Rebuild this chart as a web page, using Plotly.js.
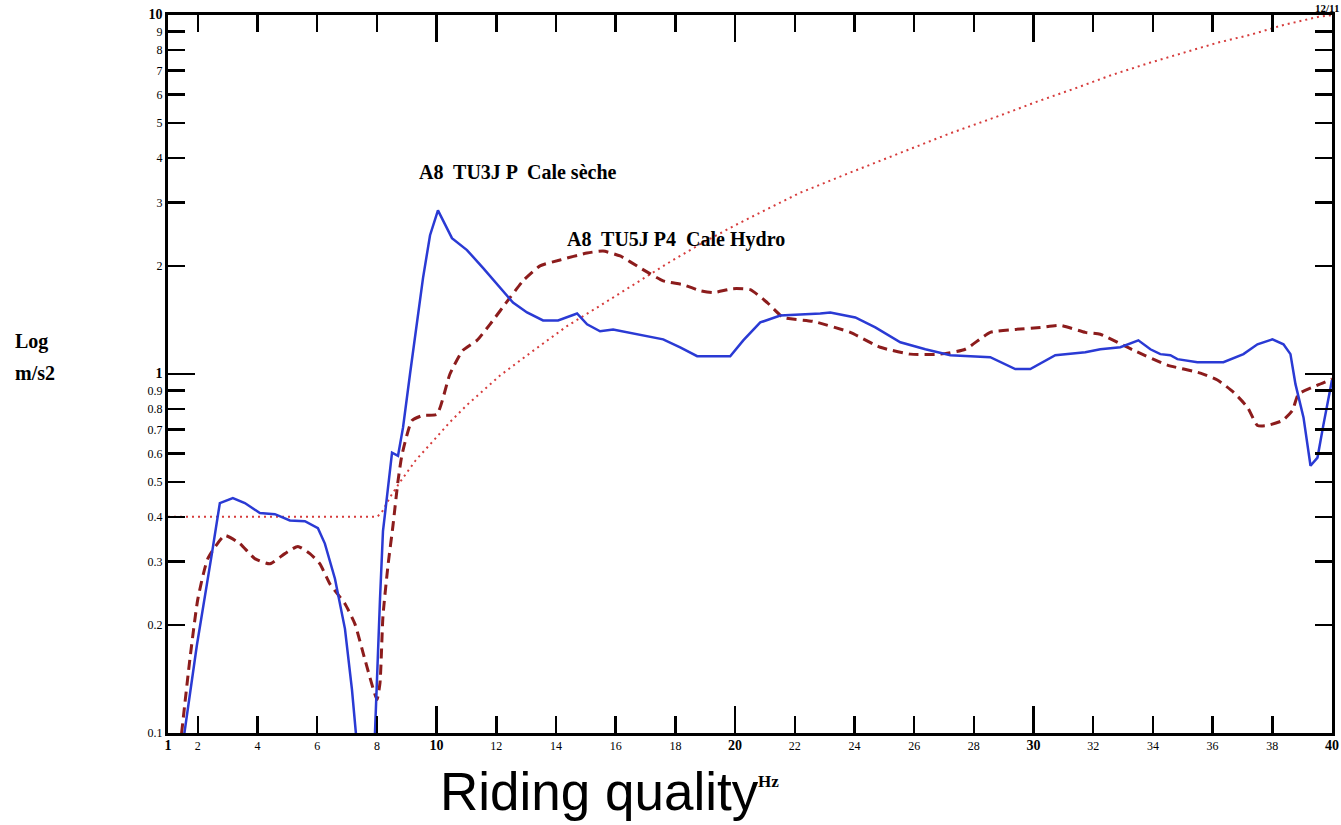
<!DOCTYPE html>
<html>
<head>
<meta charset="utf-8">
<script src="https://cdn.plot.ly/plotly-3.0.1.min.js"></script>
<style>html,body{margin:0;padding:0;background:#fff;}#chart{width:1341px;height:825px;}</style>
</head>
<body>
<div id="chart"></div>
<script>
// ---- Data ----
const blueX = [1.43,1.965,2.468,2.737,3.172,3.575,4.078,4.581,5.084,5.587,6.023,6.256,6.594,6.929,7.164,7.332,7.40,7.85,7.935,8.103,8.203,8.304,8.506,8.707,8.875,9.109,9.545,9.780,10.045,10.514,11.017,11.553,12.123,12.559,13.029,13.566,14.069,14.706,15.041,15.477,15.913,16.584,17.590,18.160,18.730,19.837,20.274,20.844,21.514,22.855,23.190,24.028,24.699,25.537,26.375,27.213,28.550,29.388,29.891,30.729,31.735,32.238,32.908,33.512,33.914,34.249,34.585,34.820,35.490,36.362,37.033,37.502,38.005,38.374,38.608,38.776,39.045,39.280,39.514,39.715,40.0];
const blueY = [0.085,0.175,0.315,0.437,0.451,0.437,0.410,0.407,0.391,0.389,0.372,0.337,0.269,0.195,0.132,0.0956,0.08,0.08,0.1,0.236,0.365,0.431,0.604,0.592,0.710,1.0,1.853,2.436,2.857,2.39,2.214,1.975,1.740,1.581,1.484,1.410,1.410,1.474,1.375,1.315,1.331,1.298,1.249,1.187,1.121,1.121,1.241,1.392,1.455,1.474,1.484,1.437,1.348,1.226,1.172,1.128,1.114,1.032,1.032,1.128,1.150,1.172,1.187,1.241,1.172,1.136,1.128,1.100,1.079,1.079,1.136,1.210,1.249,1.210,1.136,0.937,0.757,0.555,0.585,0.724,0.962];

const hydroX = [1.396,1.731,1.999,2.334,2.904,3.407,3.910,4.413,4.916,5.352,5.755,6.090,6.426,6.929,7.265,7.600,8.002,8.103,8.203,8.371,8.539,8.707,8.841,9.176,9.545,10.011,10.447,10.883,11.352,11.788,12.458,12.895,13.465,14.136,15.041,15.578,16.148,16.819,17.590,18.261,18.831,19.267,19.938,20.508,21.078,21.615,22.620,23.861,24.866,25.872,26.878,27.711,28.550,29.388,30.226,30.897,31.735,32.238,33.344,34.484,35.591,36.161,36.697,37.167,37.502,37.837,38.340,38.675,38.877,39.514,40.0];
const hydroY = [0.09,0.160,0.236,0.306,0.355,0.337,0.306,0.296,0.316,0.331,0.316,0.296,0.260,0.229,0.201,0.160,0.124,0.138,0.212,0.293,0.379,0.504,0.596,0.742,0.767,0.772,1.0,1.165,1.241,1.375,1.632,1.818,2.001,2.078,2.173,2.200,2.132,1.975,1.818,1.773,1.706,1.685,1.729,1.718,1.581,1.437,1.401,1.306,1.187,1.136,1.136,1.172,1.306,1.331,1.348,1.366,1.306,1.290,1.165,1.059,1.006,0.962,0.890,0.808,0.719,0.719,0.742,0.792,0.879,0.931,0.968];

const limitX = [1,8.0,8.15,8.45,8.774,9.3,9.877,10.45,11.017,12.123,13.230,14.371,15.477,16.584,17.724,18.831,19.938,21.078,22.185,23.86,25.537,27.2,28.885,30.15,31.400,32.65,33.914,35.021,36.161,37.267,38.374,39.514,40.0];
const limitY = [0.4,0.4,0.41,0.455,0.50,0.575,0.65,0.735,0.82,0.99,1.16,1.36,1.55,1.77,2.03,2.30,2.58,2.88,3.20,3.64,4.12,4.68,5.25,5.75,6.25,6.82,7.37,7.85,8.37,8.81,9.38,9.87,10];

const xTickVals = [1,2,4,6,8,10,12,14,16,18,20,22,24,26,28,30,32,34,36,38,40];
const xTickText = ['<b>1</b>','2','4','6','8','<b>10</b>','12','14','16','18','<b>20</b>','22','24','26','28','<b>30</b>','32','34','36','38','<b>40</b>'];
const xMajorVals = [10,20,30,40];
const yTickVals = [0.1,0.2,0.3,0.4,0.5,0.6,0.7,0.8,0.9,1,2,3,4,5,6,7,8,9,10];
const yTickText = ['0.1','0.2','0.3','0.4','0.5','0.6','0.7','0.8','0.9','<b>1</b>','2','3','4','5','6','7','8','9','<b>10</b>'];
const yMajorVals = [1,10];

const labelSeche = 'A8  TU3J P  Cale sèche';
const labelHydro = 'A8  TU5J P4  Cale Hydro';

// ---- Traces ----
const serif = 'Liberation Serif, Times New Roman, serif';
const big = s => '<span style="font-size:14px">' + s + '</span>';
const traces = [
  {x: limitX, y: limitY, type:'scatter', mode:'lines', line:{color:'#d63c3c', width:2, dash:'2px,4px'}, showlegend:false, hoverinfo:'skip'},
  {x: hydroX, y: hydroY, type:'scatter', mode:'lines', line:{color:'#8c1c1c', width:3, dash:'10px,6px', shape:'spline', smoothing:0.5}, showlegend:false},
  {x: blueX, y: blueY, type:'scatter', mode:'lines', line:{color:'#2a3ad4', width:2.5}, showlegend:false},
  {x: [], y: [], type:'scatter', xaxis:'x2', yaxis:'y2', showlegend:false, hoverinfo:'skip'}
];

const axisCommon = {
  showgrid:false, zeroline:false, ticks:'inside', tickwidth:2.5, tickcolor:'#000',
  mirror:'ticks', tickmode:'array', fixedrange:true
};

const layout = {
  width:1341, height:825,
  margin:{l:168, r:9, t:15, b:92},
  paper_bgcolor:'#fff', plot_bgcolor:'#fff',
  showlegend:false,
  xaxis: Object.assign({}, axisCommon, {
    type:'linear', range:[1,40], tickvals:xTickVals,
    ticktext:xTickText.map(t => t.indexOf('<b>') === 0 ? big(t) : t), ticklen:17,
    showline:true, linewidth:3, linecolor:'#000',
    tickfont:{family:serif, size:12, color:'#000'}
  }),
  xaxis2: Object.assign({}, axisCommon, {
    overlaying:'x', anchor:'y', side:'bottom', type:'linear', range:[1,40],
    tickvals:xMajorVals, ticklen:27, showticklabels:false, showline:false
  }),
  yaxis: Object.assign({}, axisCommon, {
    type:'log', range:[-1,1], tickvals:yTickVals,
    ticktext:yTickText.map(t => t.indexOf('<b>') === 0 ? big(t) : t), ticklen:17,
    showline:true, linewidth:3, linecolor:'#000',
    tickfont:{family:serif, size:12, color:'#000'}
  }),
  yaxis2: Object.assign({}, axisCommon, {
    overlaying:'y', anchor:'x', side:'left', type:'log', range:[-1,1],
    tickvals:yMajorVals, ticklen:27, showticklabels:false, showline:false
  }),
  annotations: [
    {text:'<b>'+labelSeche+'</b>', xref:'paper', yref:'paper', x:0.2137, y:0.7813, xanchor:'left', yanchor:'middle', showarrow:false, font:{family:serif, size:20, color:'#000'}},
    {text:'<b>'+labelHydro+'</b>', xref:'paper', yref:'paper', x:0.3411, y:0.688, xanchor:'left', yanchor:'middle', showarrow:false, font:{family:serif, size:20, color:'#000'}},
    {text:'<b>Log</b>', xref:'paper', yref:'paper', x:-0.1335, y:0.5446, xanchor:'left', yanchor:'middle', showarrow:false, font:{family:serif, size:20, color:'#000'}},
    {text:'<b>m/s2</b>', xref:'paper', yref:'paper', x:-0.1335, y:0.5014, xanchor:'left', yanchor:'middle', showarrow:false, font:{family:serif, size:20, color:'#000'}},
    {text:'<b>Hz</b>', xref:'paper', yref:'paper', x:0.5155, y:-0.0669, xanchor:'center', yanchor:'middle', showarrow:false, font:{family:serif, size:17, color:'#000'}},
    {text:'Riding quality', xref:'paper', yref:'paper', x:0.3711, y:-0.0815, xanchor:'center', yanchor:'middle', showarrow:false, font:{family:'Liberation Sans, Arial, sans-serif', size:53, color:'#000'}},
    {text:'<b>12/11</b>', xref:'paper', yref:'paper', x:1.0077, y:1.0209, xanchor:'right', yanchor:'top', showarrow:false, font:{family:serif, size:11, color:'#000'}}
  ]
};

Plotly.newPlot('chart', traces, layout, {displayModeBar:false, staticPlot:true});
</script>
</body>
</html>
